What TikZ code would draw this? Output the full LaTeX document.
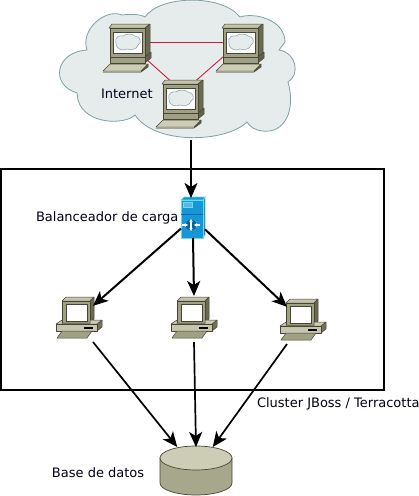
\documentclass[tikz,border=0pt]{standalone}
\usepackage{fontspec}
\setmainfont{DejaVu Sans}
\usetikzlibrary{arrows.meta}
\definecolor{cloudFill}{RGB}{230,236,236}
\definecolor{cloudLine}{RGB}{125,160,166}
\definecolor{linkRed}{RGB}{200,30,60}
\definecolor{pcDark}{RGB}{70,70,50}
\definecolor{pcMid}{RGB}{160,160,132}
\definecolor{pcLight}{RGB}{205,205,182}
\definecolor{lbBlue}{RGB}{20,150,215}
\definecolor{lbDark}{RGB}{10,105,165}
\definecolor{lbEdge}{RGB}{110,215,245}
\tikzset{
  hostbox/.style={inner sep=0pt,outer sep=0pt,minimum width=30pt,minimum height=46pt},
  peerbox/.style={inner sep=0pt,outer sep=0pt,minimum size=2pt},
  label/.style={inner sep=0pt,outer sep=0pt,anchor=base west,font=\fontsize{13}{15}\selectfont,text=black!90!blue},
  fatlink/.style={draw=black,line width=2pt,-{Stealth[length=15pt,width=13pt,inset=4pt]}},
  thinlink/.style={draw=black,line width=1.7pt,-{Stealth[length=15pt,width=13pt,inset=4pt]}},
  redlink/.style={draw=linkRed,line width=0.9pt},
  pcpart/.style={draw=pcDark,line width=0.5pt,line join=round},
  pics/cloudhost/.style={code={
    \path[pcpart,fill=pcLight!80!pcMid] (-18,-20) -- (-15,-24) -- (23,-24) -- (18,-20) -- cycle;
    \path[pcpart,fill=pcDark!60!pcMid] (18,-20) -- (23,-24) -- (23,5) -- (18,9) -- cycle;
    \path[pcpart,fill=pcMid] (-17,-20) rectangle (18,9);
    \path[draw=pcDark,fill=white] (-14,-16) rectangle (15,5);
    \path[draw=cloudLine,fill=cloudFill,line width=0.5pt] (-11,-5) .. controls (-13,-11) and (-7,-13) .. (-4,-12)
      .. controls (-1,-15) and (6,-14) .. (8,-12) .. controls (14,-12) and (15,-4) .. (11,-3)
      .. controls (10,2) and (3,2) .. (0,1) .. controls (-4,3) and (-11,2) .. (-11,-5) -- cycle;
    \path[pcpart,fill=pcDark!70!pcMid] (18,9) -- (24,4) -- (24,10) -- (18,15) -- cycle;
    \path[pcpart,fill=pcMid] (-17,9) rectangle (18,15);
    \path[pcpart,fill=pcDark!70!pcMid] (-24,24) -- (14,24) -- (21,16) -- (21,19) -- (14,24) -- cycle;
    \path[pcpart,fill=pcLight] (-24,23) -- (-17,16) -- (21,16) -- (14,23) -- cycle;
  }},
  pics/clusterhost/.style={code={
    \path[pcpart,fill=pcLight!80!pcMid] (-16,-18) -- (-12,-22) -- (16,-22) -- (12,-18) -- cycle;
    \path[pcpart,fill=pcDark!60!pcMid] (12,-18) -- (16,-22) -- (16,0) -- (12,4) -- cycle;
    \path[pcpart,fill=pcMid] (-16,-18) rectangle (12,4);
    \path[draw=pcDark,fill=white] (-12,-15) rectangle (9,2);
    \path[pcpart,fill=pcDark!50!pcMid] (19,5) -- (24,1) -- (24,8) -- (19,12) -- cycle;
    \path[pcpart,fill=pcLight] (-22,5) -- (-16,1) -- (-16,4) -- (12,4) -- (12,1) -- (24,1) -- (19,5) -- cycle;
    \path[pcpart,fill=pcLight!85!pcMid] (-22,5) rectangle (19,12);
    \path[fill=black] (6,7.5) rectangle (15,9.5);
    \path[pcpart,fill=pcMid] (-21,19) -- (-16,12) -- (14,12) -- (9,19) -- cycle;
  }}
}
\begin{document}
\begin{tikzpicture}[x=1pt,y=-1pt]
\useasboundingbox (0,0) rectangle (419,496);

% cloud
\path[draw=cloudLine,fill=cloudFill,line width=0.8pt] (145,17)
  .. controls (160,-5) and (222,-6) .. (240,17)
  .. controls (255,12) and (285,20) .. (285,42)
  -- (279,50)
  .. controls (297,53) and (300,75) .. (288,82)
  .. controls (296,110) and (285,134) .. (262,131)
  .. controls (255,130) and (250,127) .. (247,122)
  .. controls (225,143) and (155,145) .. (135,115)
  .. controls (125,125) and (85,125) .. (78,100)
  -- (77,93)
  .. controls (50,85) and (55,52) .. (87,50)
  .. controls (80,30) and (105,8) .. (122,15)
  .. controls (130,14) and (140,14) .. (145,17) -- cycle;

\node[peerbox] (peerA) at (127,42) {};
\node[peerbox] (peerB) at (240,42) {};
\node[peerbox] (peerC) at (183,92) {};
\coordinate (cloudOut) at (191,140);

\path[redlink] (peerA) -- (peerB);
\path[redlink] (peerA) -- (peerC);
\path[redlink] (peerC) -- (peerB);

\pic at (127,48) {cloudhost};
\pic at (240,48) {cloudhost};
\pic at (180,104) {cloudhost};

\node[label] (lblInternet) at (101,98) {Internet};

% cluster
\path[draw=black,line width=2pt] (1,169) rectangle (384,390);

\node[inner sep=0pt,outer sep=0pt,minimum width=24pt,minimum height=40pt] (lbal) at (193,218) {};
\path[draw=lbEdge,fill=lbDark,line width=0.6pt] (203,200) -- (205,197) -- (205,235) -- (203,238) -- cycle;
\path[draw=lbEdge,fill=lbBlue,line width=0.6pt] (181,200) -- (184,197) -- (205,197) -- (203,200) -- cycle;
\path[draw=lbEdge,fill=lbBlue,line width=0.6pt] (181,200) rectangle (203,238);
\path[draw=lbDark,line width=0.5pt] (181,214) -- (203,214);
\path[draw=lbEdge,fill=lbBlue!70!white,line width=0.5pt] (183,202) rectangle (192,207);
\path[fill=lbDark!60!black,opacity=0.6] (191,225) circle (5.5);
\path[draw=white,line width=1.3pt,-{Stealth[length=3pt,width=3.5pt]}] (182,225) -- (188,225);
\path[draw=white,line width=1.3pt,-{Stealth[length=3pt,width=3.5pt]}] (200,225) -- (194,225);
\path[draw=white,line width=1.3pt,{Stealth[length=3pt,width=3.5pt]}-{Stealth[length=3pt,width=3.5pt]}] (191,219) -- (191,231);

\node[label] (lblBalancer) at (36,221) {Balanceador de carga};

\node[hostbox] (hostA) at (78,319) {};
\node[hostbox] (hostB) at (194,319) {};
\node[hostbox] (hostC) at (302,321) {};
\pic at (78,319) {clusterhost};
\pic at (193,319) {clusterhost};
\pic at (302,321) {clusterhost};

\node[label] (lblCluster) at (257,407) {Cluster JBoss / Terracotta};

% database
\node[inner sep=0pt,outer sep=0pt,minimum width=72pt,minimum height=48pt] (dbase) at (196,471) {};
\path[draw=pcDark,fill=pcMid!85!pcLight,line width=0.7pt] (160,458) -- (160,483)
  arc[start angle=180,end angle=0,x radius=36,y radius=12] -- (232,458) -- cycle;
\path[draw=pcDark,fill=pcLight,line width=0.7pt] (196,458) ellipse (36 and 12);

\node[label] (lblDatabase) at (52,477) {Base de datos};

\draw[fatlink] (cloudOut) -- (lbal.north -| cloudOut);
\draw[fatlink] (lbal) -- (hostA);
\draw[fatlink] (lbal.south) -- (hostB.north);
\draw[fatlink] (lbal) -- (hostC);
\draw[thinlink] (hostA.south east) -- (dbase.128);
\draw[thinlink] (hostB.south) -- (dbase.north);
\draw[thinlink] (hostC.south west) -- (dbase.55);
\end{tikzpicture}
\end{document}
